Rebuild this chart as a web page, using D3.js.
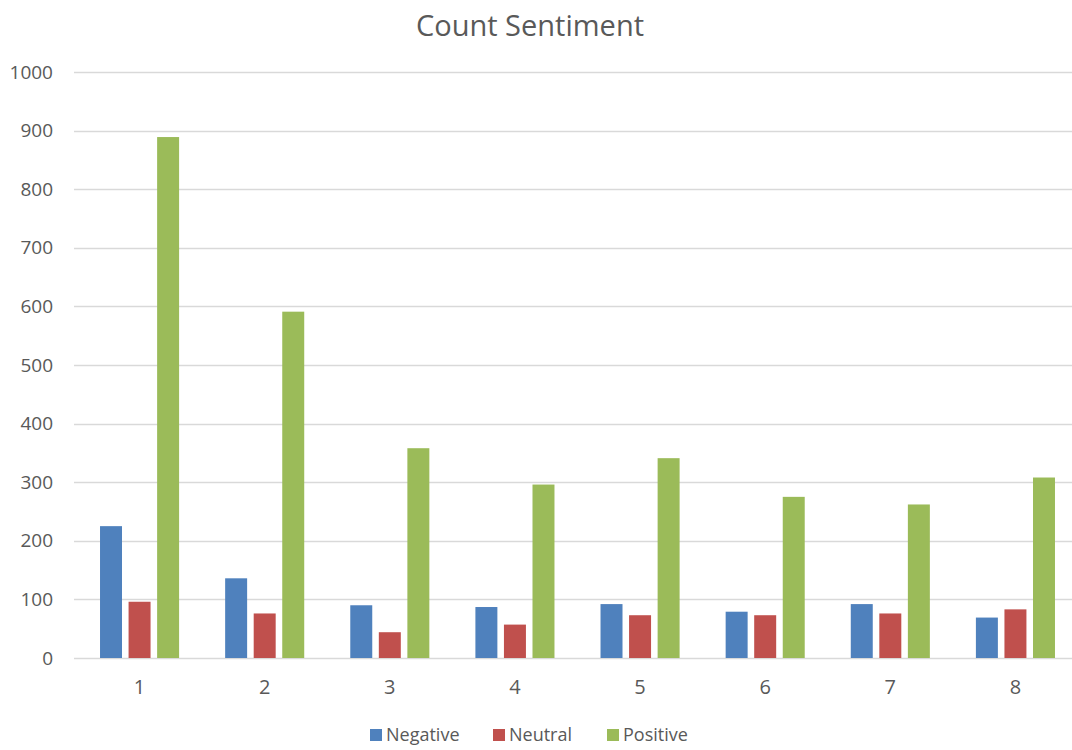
<!DOCTYPE html>
<html>
<head>
<meta charset="utf-8">
<script src="https://cdn.jsdelivr.net/npm/d3@7"></script>
<style>
  body { margin: 0; background: #fff; }
  text { font-family: "Open Sans", "Noto Sans", sans-serif; fill: #595959; }
</style>
</head>
<body>
<div id="chart"></div>
<script>
// data
const groups = ["1", "2", "3", "4", "5", "6", "7", "8"];
const seriesNames = ["Negative", "Neutral", "Positive"];
const negative = [225, 136, 90, 87, 92, 79, 92, 69];
const neutral = [96, 76, 44, 57, 73, 73, 76, 83];
const positive = [889, 591, 358, 296, 341, 275, 262, 308];
const yTicks = [0, 100, 200, 300, 400, 500, 600, 700, 800, 900, 1000];
const colors = ["#4f81bd", "#c0504d", "#9bbb59"];

const values = [negative, neutral, positive];
const rows = groups.map((g, i) => ({group: g, vals: seriesNames.map((s, j) => ({key: s, value: values[j][i]}))}));

const width = 1072;
const height = 750;
const margin = {top: 72, right: -6, bottom: 92, left: 77};

const svg = d3.select("#chart").append("svg")
    .attr("width", width)
    .attr("height", height);

const x0 = d3.scaleBand()
    .domain(groups)
    .range([margin.left, width - margin.right])
    .paddingInner(0.368)
    .paddingOuter(0.184);

const x1 = d3.scaleBand()
    .domain(seriesNames)
    .range([0, x0.bandwidth()])
    .paddingInner(0.23);

const yScale = d3.scaleLinear()
    .domain([0, 1000])
    .range([height - margin.bottom, margin.top]);

const color = d3.scaleOrdinal().domain(seriesNames).range(colors);

// title
svg.append("text")
    .attr("x", 530)
    .attr("y", 36)
    .attr("text-anchor", "middle")
    .style("font-size", "29px")
    .text("Count Sentiment");

// gridlines
svg.append("g")
    .selectAll("line")
    .data(yTicks)
    .join("line")
    .attr("x1", 74)
    .attr("x2", width)
    .attr("y1", d => Math.round(yScale(d)) + 0.5)
    .attr("y2", d => Math.round(yScale(d)) + 0.5)
    .attr("stroke", "#d9d9d9")
    .attr("stroke-width", 1.5);

// y labels
svg.append("g")
    .selectAll("text")
    .data(yTicks)
    .join("text")
    .attr("x", 53)
    .attr("y", d => yScale(d))
    .attr("dy", "0.35em")
    .attr("text-anchor", "end")
    .style("font-size", "19px")
    .text(d => d);

// bars
svg.append("g")
    .selectAll("g")
    .data(rows)
    .join("g")
    .attr("transform", d => `translate(${x0(d.group)},0)`)
    .selectAll("rect")
    .data(d => d.vals)
    .join("rect")
    .attr("x", d => x1(d.key))
    .attr("width", x1.bandwidth())
    .attr("y", d => yScale(d.value))
    .attr("height", d => yScale(0) - yScale(d.value))
    .attr("fill", d => color(d.key));

// x labels
svg.append("g")
    .selectAll("text")
    .data(groups)
    .join("text")
    .attr("x", d => x0(d) + x0.bandwidth() / 2)
    .attr("y", 694)
    .attr("text-anchor", "middle")
    .style("font-size", "20px")
    .text(d => d);

// legend
const legendX = [370, 493, 607];
const legend = svg.append("g")
    .selectAll("g")
    .data(seriesNames)
    .join("g")
    .attr("transform", (d, i) => `translate(${legendX[i]},729)`);

legend.append("rect")
    .attr("width", 12)
    .attr("height", 12)
    .attr("fill", d => color(d));

legend.append("text")
    .attr("x", 16)
    .attr("y", 6)
    .attr("dy", "0.35em")
    .style("font-size", "18px")
    .text(d => d);
</script>
</body>
</html>
